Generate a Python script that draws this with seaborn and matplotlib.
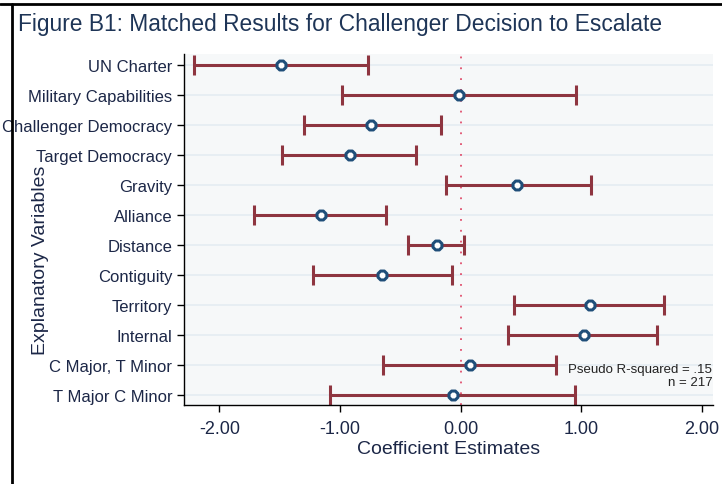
import numpy as np
import pandas as pd
import matplotlib.pyplot as plt
import seaborn as sns
from matplotlib.lines import Line2D

variables = [
    "UN Charter",
    "Military Capabilities",
    "Challenger Democracy",
    "Target Democracy",
    "Gravity",
    "Alliance",
    "Distance",
    "Contiguity",
    "Territory",
    "Internal",
    "C Major, T Minor",
    "T Major C Minor",
]
estimates = [-1.49, -0.01, -0.74, -0.92, 0.47, -1.16, -0.20, -0.65, 1.07, 1.02, 0.08, -0.06]
ci_low = [-2.21, -0.98, -1.30, -1.48, -0.12, -1.71, -0.44, -1.22, 0.44, 0.39, -0.64, -1.08]
ci_high = [-0.77, 0.96, -0.16, -0.37, 1.08, -0.62, 0.03, -0.07, 1.69, 1.63, 0.79, 0.95]
xticks = [-2.0, -1.0, 0.0, 1.0, 2.0]

df = pd.DataFrame(
    {"var": variables, "est": estimates, "lo": ci_low, "hi": ci_high}
)
df["pos"] = np.arange(len(df))

sns.set_style("ticks")
plt.rcParams["font.family"] = ["Liberation Sans", "DejaVu Sans"]

text_col = "#1c2747"
bar_col = "#8e3540"
pt_col = "#1f4e79"

fig = plt.figure(figsize=(7.22, 4.85), dpi=100)
ax = fig.add_axes([0.2548, 0.1629, 0.9871 - 0.2548, 0.8866 - 0.1629])
ax.set_facecolor("#f6f8f9")

# light horizontal grid at each variable
for p in df["pos"]:
    ax.axhline(p, color="#e4edf2", lw=1.2, zorder=0)

ax.axvline(0, color="#e0506e", lw=1.3, ls=(0, (1, 5)), zorder=1)

ax.errorbar(
    df["est"],
    df["pos"],
    xerr=[df["est"] - df["lo"], df["hi"] - df["est"]],
    fmt="none",
    ecolor=bar_col,
    elinewidth=2.2,
    capsize=7,
    capthick=2.2,
    zorder=2,
)
sns.scatterplot(
    data=df,
    x="est",
    y="pos",
    ax=ax,
    marker="8",
    s=48,
    facecolor="white",
    edgecolor=pt_col,
    linewidth=2.2,
    zorder=3,
    legend=False,
)

ax.set_xlim(-2.294, 2.09)
ax.set_ylim(11.35, -0.37)
ax.set_yticks(df["pos"])
ax.set_yticklabels(df["var"], fontsize=12, color=text_col)
ax.set_xticks(xticks)
ax.set_xticklabels([f"{t:.2f}" for t in xticks], fontsize=13, color=text_col)
ax.tick_params(axis="both", length=5, width=1, color="black")
ax.tick_params(axis="x", pad=6)

ax.set_xlabel("Coefficient Estimates", fontsize=14, color=text_col, labelpad=2)
ax.set_ylabel("Explanatory Variables", fontsize=14, color=text_col, labelpad=2)
ax.yaxis.set_label_coords(-0.256, 0.415)

for s in ["top", "right"]:
    ax.spines[s].set_visible(False)
for s in ["left", "bottom"]:
    ax.spines[s].set_color("black")
    ax.spines[s].set_linewidth(1)

ax.text(0.999, 0.102, "Pseudo R-squared = .15", transform=ax.transAxes,
        ha="right", va="center", fontsize=9.5, color="#222222")
ax.text(0.999, 0.066, "n = 217", transform=ax.transAxes,
        ha="right", va="center", fontsize=9.5, color="#222222")

fig.text(18 / 722, 1 - 25 / 485, "Figure B1: Matched Results for Challenger Decision to Escalate",
         ha="left", va="center", fontsize=16.4, color="#1e3557")

# document frame lines
fig.add_artist(Line2D([0, 1], [1 - 5 / 485, 1 - 5 / 485], color="black", lw=2,
                      transform=fig.transFigure))
fig.add_artist(Line2D([12 / 722, 12 / 722], [0, 1 - 5 / 485], color="black", lw=2,
                      transform=fig.transFigure))

fig.savefig("out.png", dpi=100)
